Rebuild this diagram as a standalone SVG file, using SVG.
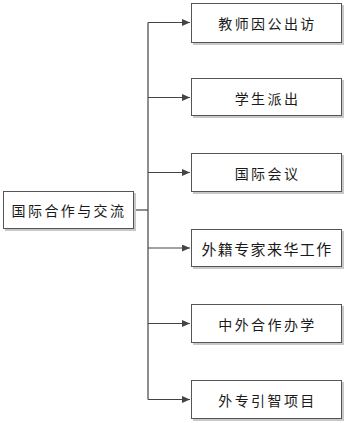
<svg xmlns="http://www.w3.org/2000/svg" width="347" height="423" viewBox="0 0 347 423">
<style>
.box{fill:#ffffff;stroke:#555555;stroke-width:1}
.shadow{fill:#c8c8c8;stroke:none}
.t{font-family:"Noto Sans CJK SC","Liberation Sans",sans-serif;font-size:14px;fill:#1a1a1a;text-anchor:middle;dominant-baseline:central;letter-spacing:2.4px}
.c{fill:none;stroke:#444444;stroke-width:1.2}
</style>
<defs>
<marker id="ah" markerWidth="8" markerHeight="7" refX="8" refY="3.5" orient="auto" markerUnits="userSpaceOnUse">
<path d="M0,0 L8,3.5 L0,7 Z" fill="#444444"/>
</marker>
</defs>
<rect width="347" height="423" fill="#ffffff"/>
<g id="connectors">
<path class="c" d="M134,210 H148"/>
<path class="c" d="M148,22.5 V399.5"/>
<path class="c" d="M148,22.5 H190" marker-end="url(#ah)"/>
<path class="c" d="M148,97.5 H190" marker-end="url(#ah)"/>
<path class="c" d="M148,172.5 H190" marker-end="url(#ah)"/>
<path class="c" d="M148,248 H190" marker-end="url(#ah)"/>
<path class="c" d="M148,323.5 H190" marker-end="url(#ah)"/>
<path class="c" d="M148,399.5 H190" marker-end="url(#ah)"/>
</g>
<g id="root">
<rect class="shadow" x="5" y="193" width="131" height="38"/>
<rect class="box" x="3.5" y="191.5" width="130" height="37"/>
<text class="t" x="69" y="210">国际合作与交流</text>
</g>
<g id="n1">
<rect class="shadow" x="193" y="5" width="151" height="40"/>
<rect class="box" x="191.5" y="3.5" width="150" height="39"/>
<text class="t" x="267.5" y="23">教师因公出访</text>
</g>
<g id="n2">
<rect class="shadow" x="193" y="80" width="151" height="38"/>
<rect class="box" x="191.5" y="78.5" width="150" height="37"/>
<text class="t" x="267.5" y="97.5">学生派出</text>
</g>
<g id="n3">
<rect class="shadow" x="193" y="155" width="151" height="39"/>
<rect class="box" x="191.5" y="153.5" width="150" height="38"/>
<text class="t" x="267.5" y="172.5">国际会议</text>
</g>
<g id="n4">
<rect class="shadow" x="193" y="231" width="151" height="38"/>
<rect class="box" x="191.5" y="229.5" width="150" height="37"/>
<text class="t" x="267" y="248" style="font-size:15px;letter-spacing:1.4px">外籍专家来华工作</text>
</g>
<g id="n5">
<rect class="shadow" x="193" y="306" width="151" height="39"/>
<rect class="box" x="191.5" y="304.5" width="150" height="38"/>
<text class="t" x="267.5" y="323.5">中外合作办学</text>
</g>
<g id="n6">
<rect class="shadow" x="193" y="382" width="151" height="39"/>
<rect class="box" x="191.5" y="380.5" width="150" height="38"/>
<text class="t" x="267.5" y="399.5">外专引智项目</text>
</g>
</svg>
